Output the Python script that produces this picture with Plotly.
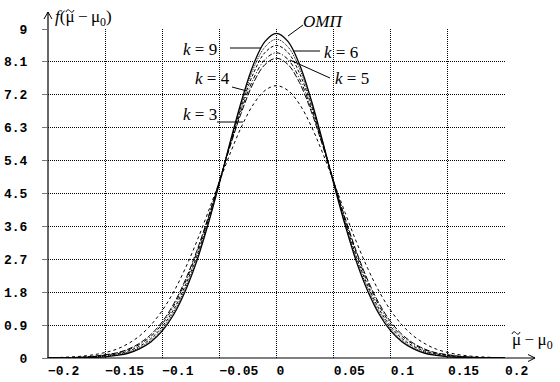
import plotly.graph_objects as go

# ---------------- data ----------------
x_vals = [-0.20, -0.19, -0.18, -0.17, -0.16, -0.15, -0.14, -0.13, -0.12, -0.11,
          -0.10, -0.09, -0.08, -0.07, -0.06, -0.05, -0.04, -0.03, -0.02, -0.01,
          0.00,
          0.01, 0.02, 0.03, 0.04, 0.05, 0.06, 0.07, 0.08, 0.09, 0.10,
          0.11, 0.12, 0.13, 0.14, 0.15, 0.16, 0.17, 0.18, 0.19, 0.20]

omp = [0.00, 0.001, 0.002, 0.006, 0.015, 0.03, 0.07, 0.13, 0.25, 0.44,
       0.74, 1.19, 1.82, 2.63, 3.64, 4.78, 5.97, 7.10, 8.04, 8.66,
       8.88,
       8.66, 8.04, 7.10, 5.97, 4.78, 3.64, 2.63, 1.82, 1.19, 0.74,
       0.44, 0.25, 0.13, 0.07, 0.03, 0.015, 0.006, 0.002, 0.001, 0.00]

k9 = [0.001, 0.002, 0.004, 0.01, 0.03, 0.05, 0.09, 0.16, 0.28, 0.48,
      0.80, 1.26, 1.89, 2.70, 3.69, 4.80, 5.95, 7.03, 7.93, 8.51,
      8.72,
      8.51, 7.93, 7.03, 5.95, 4.80, 3.69, 2.70, 1.89, 1.26, 0.80,
      0.48, 0.28, 0.16, 0.09, 0.05, 0.03, 0.01, 0.004, 0.002, 0.001]

k6 = [0.001, 0.003, 0.008, 0.02, 0.04, 0.07, 0.11, 0.19, 0.32, 0.53,
      0.86, 1.33, 1.97, 2.77, 3.74, 4.81, 5.92, 6.95, 7.80, 8.36,
      8.55,
      8.36, 7.80, 6.95, 5.92, 4.81, 3.74, 2.77, 1.97, 1.33, 0.86,
      0.53, 0.32, 0.19, 0.11, 0.07, 0.04, 0.02, 0.008, 0.003, 0.001]

k5 = [0.002, 0.005, 0.01, 0.02, 0.04, 0.08, 0.13, 0.22, 0.37, 0.59,
      0.93, 1.42, 2.06, 2.86, 3.80, 4.83, 5.88, 6.86, 7.65, 8.17,
      8.35,
      8.17, 7.65, 6.86, 5.88, 4.83, 3.80, 2.86, 2.06, 1.42, 0.93,
      0.59, 0.37, 0.22, 0.13, 0.08, 0.04, 0.02, 0.01, 0.005, 0.002]

k4 = [0.003, 0.006, 0.012, 0.025, 0.05, 0.09, 0.14, 0.24, 0.40, 0.64,
      0.99, 1.48, 2.12, 2.91, 3.83, 4.84, 5.85, 6.78, 7.54, 8.03,
      8.20,
      8.03, 7.54, 6.78, 5.85, 4.84, 3.83, 2.91, 2.12, 1.48, 0.99,
      0.64, 0.40, 0.24, 0.14, 0.09, 0.05, 0.025, 0.012, 0.006, 0.003]

k3 = [0.008, 0.015, 0.03, 0.05, 0.09, 0.15, 0.24, 0.39, 0.60, 0.90,
      1.30, 1.81, 2.44, 3.17, 3.98, 4.82, 5.64, 6.37, 6.95, 7.32,
      7.45,
      7.32, 6.95, 6.37, 5.64, 4.82, 3.98, 3.17, 2.44, 1.81, 1.30,
      0.90, 0.60, 0.39, 0.24, 0.15, 0.09, 0.05, 0.03, 0.015, 0.008]

x_tick_vals = [-0.2, -0.15, -0.1, -0.05, 0, 0.05, 0.1, 0.15, 0.2]
x_tick_text = ["\u22120.2", "\u22120.15", "\u22120.1", "\u22120.05", "0",
               "0.05", "0.1", "0.15", "0.2"]
y_tick_vals = [0, 0.9, 1.8, 2.7, 3.6, 4.5, 5.4, 6.3, 7.2, 8.1, 9]
y_tick_text = ["0", "0.9", "1.8", "2.7", "3.6", "4.5", "5.4", "6.3", "7.2", "8.1", "9"]

series_names = ["ОМП", "k = 9", "k = 6", "k = 5", "k = 4", "k = 3"]
series_values = [omp, k9, k6, k5, k4, k3]

# ---------------- layout helpers ----------------
W, H = 560, 382
L, R, T, B = 48, 55, 29, 24
PW, PH = W - L - R, H - T - B


def px(xpix):
    return (xpix - L) / PW


def py(ypix):
    return (H - B - ypix) / PH


styles = [
    dict(width=1.3, dash="solid"),
    dict(width=1, dash="1px,1px"),
    dict(width=1, dash="3px,2px"),
    dict(width=1, dash="4px,2px,1px,2px"),
    dict(width=1, dash="6px,2px"),
    dict(width=1, dash="3px,3px"),
]

fig = go.Figure()
for name, vals, st in zip(series_names, series_values, styles):
    fig.add_trace(go.Scatter(
        x=x_vals, y=vals, mode="lines", name=name,
        line=dict(color="black", shape="spline", smoothing=1.0, **st),
        showlegend=False, hoverinfo="skip",
    ))

serif = "Liberation Serif, Times New Roman, serif"
mono = "Liberation Mono, Courier New, monospace"

fig.update_layout(
    width=W, height=H,
    margin=dict(l=L, r=R, t=T, b=B, pad=0, autoexpand=False),
    paper_bgcolor="white", plot_bgcolor="white",
    xaxis=dict(
        range=[-0.2, 0.2], tickmode="array", tickvals=x_tick_vals, ticktext=x_tick_text,
        showgrid=True, gridcolor="black", gridwidth=1, griddash="1px,1px",
        zeroline=False, showline=False, ticks="", automargin=False,
        ticklabelposition="outside right", ticklabelstandoff=3,
        tickfont=dict(family=mono, size=13, color="black", weight="bold"),
    ),
    yaxis=dict(
        range=[0, 9], tickmode="array", tickvals=y_tick_vals, ticktext=y_tick_text,
        showgrid=True, gridcolor="black", gridwidth=1, griddash="1px,1px",
        zeroline=False, showline=False, ticks="outside", ticklen=5, automargin=False,
        tickcolor="#777", ticklabelstandoff=12,
        tickfont=dict(family=mono, size=13, color="black", weight="bold"),
    ),
)

shapes = []


def seg(a, b, w=1.0):
    shapes.append(dict(type="line", xref="paper", yref="paper",
                       x0=px(a[0]), y0=py(a[1]), x1=px(b[0]), y1=py(b[1]),
                       line=dict(color="black", width=w)))


# axes with arrows
seg((48, 358), (48, 12), 1.2)
seg((44, 19), (48, 12))
seg((52, 19), (48, 12))
seg((47, 358), (535, 358), 1.2)
seg((528, 354.5), (535, 358))
seg((528, 361.5), (535, 358))

# leader lines for labels
leaders = [
    ((288, 36), (303, 25)),
    ((230, 48), (261, 48)),
    ((293, 51), (320, 51)),
    ((290, 60), (330, 78)),
    ((232, 87), (247, 91)),
    ((217, 122), (243, 122)),
]
for a, b in leaders:
    seg(a, b)


# tilde marks over the first mu of the axis labels (drawn as small curves)
def tilde(cx, cy, hw=4.0, amp=1.6):
    p = lambda x, y: f"{px(x):.5f},{py(y):.5f}"
    path = ("M " + p(cx - hw, cy + amp * 0.6)
            + " C " + p(cx - hw * 0.6, cy - amp * 1.6) + " " + p(cx - hw * 0.2, cy - amp * 0.6)
            + " " + p(cx, cy)
            + " C " + p(cx + hw * 0.2, cy + amp * 0.6) + " " + p(cx + hw * 0.6, cy + amp * 1.6)
            + " " + p(cx + hw, cy - amp * 0.6))
    shapes.append(dict(type="path", xref="paper", yref="paper", path=path,
                       line=dict(color="black", width=1)))


tilde(70, 11)
tilde(516, 333)
fig.update_layout(shapes=shapes)

label_pos = [(323, 21), (200, 49), (341, 52), (352, 78), (212, 78), (200, 114)]
label_text = ["<i>ОМП</i>", "<i>k</i> = 9", "<i>k</i> = 6", "<i>k</i> = 5", "<i>k</i> = 4", "<i>k</i> = 3"]
for (lx, ly), t in zip(label_pos, label_text):
    fig.add_annotation(xref="paper", yref="paper", x=px(lx), y=py(ly), text=t,
                       showarrow=False, xanchor="center", yanchor="middle",
                       font=dict(family=serif, size=17, color="black"))

# axis titles
fig.add_annotation(xref="paper", yref="paper", x=px(53), y=py(18),
                   text="<i>f</i>(\u03bc\u2009\u2212\u2009\u03bc<sub>0</sub>)",
                   showarrow=False, xanchor="left", yanchor="middle",
                   font=dict(family=serif, size=17, color="black"))
fig.add_annotation(xref="paper", yref="paper", x=px(510), y=py(341),
                   text="\u03bc\u2009\u2212\u2009\u03bc<sub>0</sub>",
                   showarrow=False, xanchor="left", yanchor="middle",
                   font=dict(family=serif, size=17, color="black"))

fig.write_html("out.html", config={"displayModeBar": False},
               post_script="document.body.style.margin='0';document.body.style.padding='0';")
